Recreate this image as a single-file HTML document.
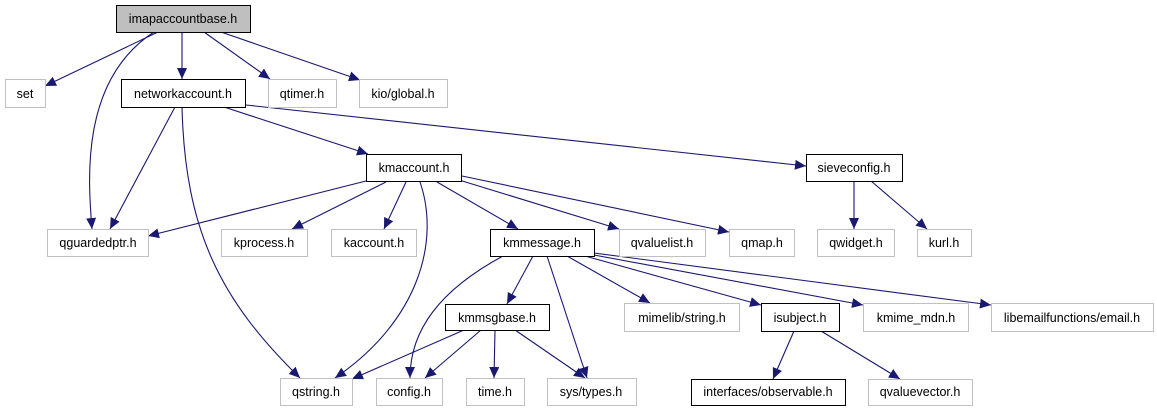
<!DOCTYPE html>
<html><head><meta charset="utf-8"><style>
html,body{margin:0;padding:0;background:#fff;width:1157px;height:411px;overflow:hidden}
svg text{font-family:"Liberation Sans",sans-serif;font-size:12.5px;fill:#000}
</style></head><body>
<svg width="1157" height="411" xmlns="http://www.w3.org/2000/svg">
<defs><marker id="a" markerUnits="userSpaceOnUse" markerWidth="12" markerHeight="10" refX="11" refY="5" orient="auto"><path d="M0,0 L11,5 L0,10 z" fill="#191970"/></marker></defs>
<g fill="none" stroke="#191970" stroke-width="1.1" marker-end="url(#a)">
<path d="M158,32 L45,86"/>
<path d="M154,32 C80,80 88,180 92,229"/>
<path d="M182,32 L182,79"/>
<path d="M204,32 L270,79"/>
<path d="M221,32 L360,80"/>
<path d="M175,107 L110,229"/>
<path d="M182,107 C185,230 220,300 300,378"/>
<path d="M224,107 L368,154"/>
<path d="M246,105 L806,166"/>
<path d="M366,181 L148,236"/>
<path d="M386,182 L292,229"/>
<path d="M406,182 L384,229"/>
<path d="M420,182 C440,240 420,320 335,378"/>
<path d="M437,182 L518,229"/>
<path d="M459,180 L619,229"/>
<path d="M462,176 L729,232"/>
<path d="M854,181 L854,229"/>
<path d="M871,181 L927,229"/>
<path d="M503,256 C440,290 410,330 410,378"/>
<path d="M533,256 L507,304"/>
<path d="M547,256 L587,378"/>
<path d="M567,256 L650,303"/>
<path d="M585,256 L761,305"/>
<path d="M594,255 L863,305"/>
<path d="M594,253 L991,305"/>
<path d="M464,330 L352,379"/>
<path d="M481,330 L425,378"/>
<path d="M495,330 L494,378"/>
<path d="M515,330 L585,378"/>
<path d="M794,331 L773,379"/>
<path d="M821,331 L900,379"/>
</g>
<g stroke-width="1">
<rect x="116.5" y="5.5" width="134" height="27" fill="#bfbfbf" stroke="#000"/>
<g fill="#fff" stroke="#000">
<rect x="121.5" y="79.5" width="124" height="28"/>
<rect x="366.5" y="154.5" width="95" height="27"/>
<rect x="806.5" y="154.5" width="96" height="27"/>
<rect x="490.5" y="229.5" width="104" height="27"/>
<rect x="445.5" y="304.5" width="104" height="26"/>
<rect x="761.5" y="303.5" width="78" height="28"/>
<rect x="691.5" y="379.5" width="154" height="26"/>
</g>
<g fill="#fff" stroke="#c0c0c0">
<rect x="5.5" y="79.5" width="40" height="28"/>
<rect x="268.5" y="79.5" width="68" height="28"/>
<rect x="359.5" y="79.5" width="88" height="28"/>
<rect x="47.5" y="229.5" width="101" height="27"/>
<rect x="221.5" y="229.5" width="86" height="27"/>
<rect x="331.5" y="229.5" width="85" height="27"/>
<rect x="619.5" y="229.5" width="86" height="27"/>
<rect x="729.5" y="229.5" width="65" height="27"/>
<rect x="817.5" y="229.5" width="77" height="27"/>
<rect x="917.5" y="229.5" width="54" height="27"/>
<rect x="624.5" y="303.5" width="115" height="28"/>
<rect x="863.5" y="303.5" width="105" height="28"/>
<rect x="991.5" y="303.5" width="162" height="28"/>
<rect x="280.5" y="378.5" width="72" height="27"/>
<rect x="376.5" y="378.5" width="66" height="27"/>
<rect x="466.5" y="378.5" width="58" height="27"/>
<rect x="547.5" y="378.5" width="89" height="27"/>
<rect x="868.5" y="379.5" width="104" height="26"/>
</g>
</g>
<g text-anchor="middle">
<text x="183" y="23">imapaccountbase.h</text>
<text x="183" y="98">networkaccount.h</text>
<text x="25" y="98">set</text>
<text x="302" y="98">qtimer.h</text>
<text x="403" y="98">kio/global.h</text>
<text x="414" y="172">kmaccount.h</text>
<text x="854" y="172">sieveconfig.h</text>
<text x="98" y="247">qguardedptr.h</text>
<text x="264" y="247">kprocess.h</text>
<text x="374" y="247">kaccount.h</text>
<text x="542" y="247">kmmessage.h</text>
<text x="662" y="247">qvaluelist.h</text>
<text x="762" y="247">qmap.h</text>
<text x="856" y="247">qwidget.h</text>
<text x="944" y="247">kurl.h</text>
<text x="497" y="322">kmmsgbase.h</text>
<text x="682" y="322">mimelib/string.h</text>
<text x="800" y="322">isubject.h</text>
<text x="916" y="322">kmime_mdn.h</text>
<text x="1072" y="322">libemailfunctions/email.h</text>
<text x="316" y="396">qstring.h</text>
<text x="409" y="396">config.h</text>
<text x="495" y="396">time.h</text>
<text x="591" y="396">sys/types.h</text>
<text x="768" y="396">interfaces/observable.h</text>
<text x="920" y="396">qvaluevector.h</text>
</g>
</svg>
</body></html>
